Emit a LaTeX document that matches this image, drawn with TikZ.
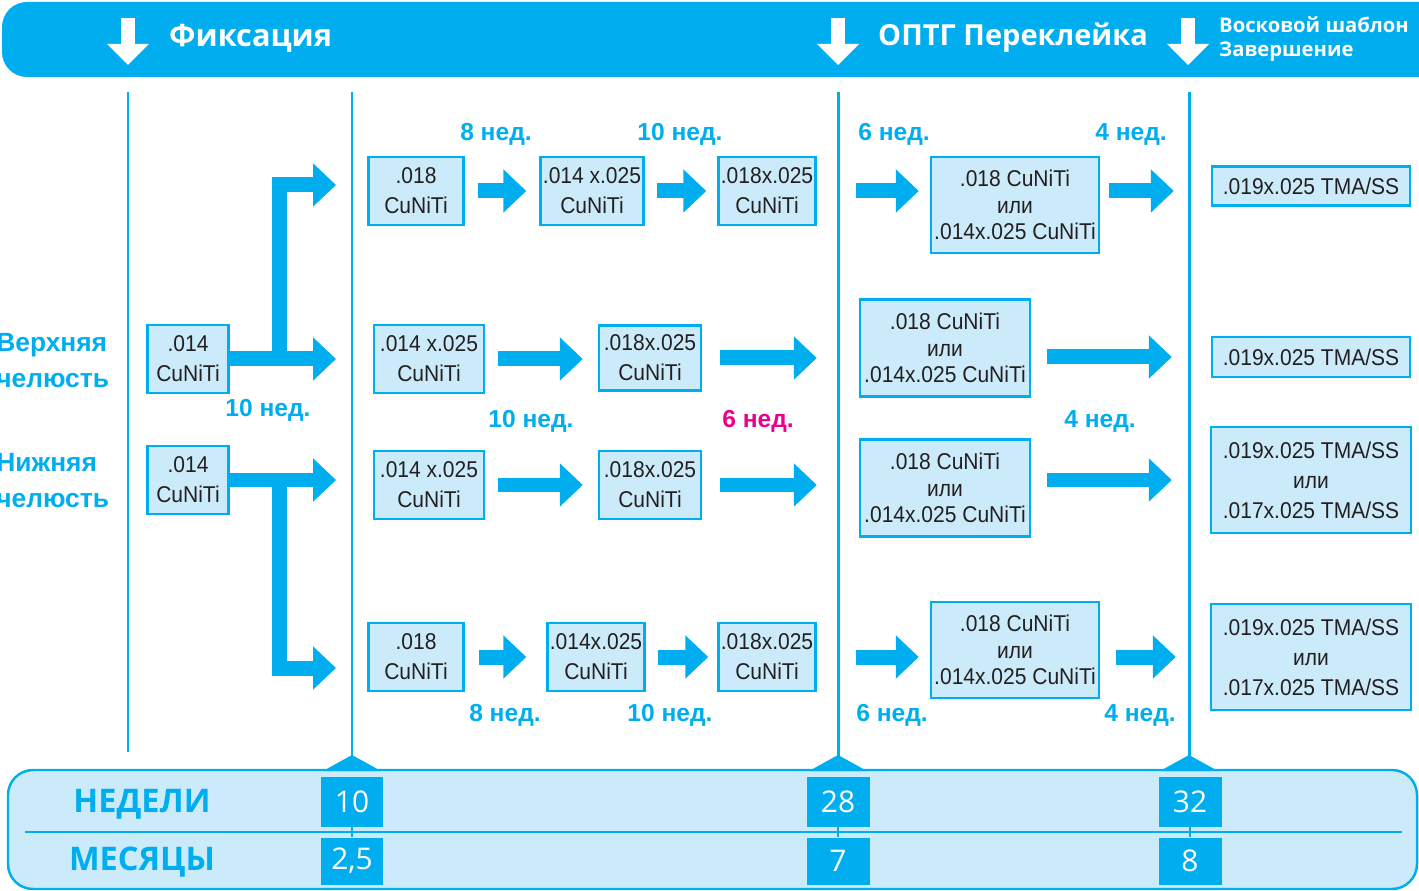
\documentclass[tikz,border=0pt]{standalone}
\usepackage{fontspec}
\setmainfont{Liberation Sans}
\newfontfamily\headfont{Open Sans}
\newfontfamily\wirefont[FakeStretch=0.92]{Liberation Sans}
\usetikzlibrary{arrows.meta, positioning, calc}
\definecolor{brandcyan}{RGB}{0, 174, 239}
\definecolor{boxfill}{RGB}{204, 235, 250}
\definecolor{weekpink}{RGB}{236, 0, 140}
\definecolor{wiretext}{RGB}{35, 31, 32}

\tikzset{
  wire/.style={draw=brandcyan, fill=boxfill, line width=1.4pt, inner sep=0pt, align=center, text=wiretext, font=\wirefont\fontsize{13}{17}\selectfont},
  choice/.style={font=\wirefont\fontsize{13}{15}\selectfont},
  flow/.style={brandcyan, line width=0.3cm, -{Triangle[width=0.84cm,length=0.46cm]}, shorten <=0.26cm, shorten >=0.26cm},
  weeks/.style={font=\bfseries\fontsize{14}{16}\selectfont, text=brandcyan},
  jaw/.style={font=\bfseries\fontsize{15}{20.5}\selectfont, text=brandcyan, align=left, anchor=west, inner sep=0pt},
  headtitle/.style={font=\headfont\bfseries\fontsize{17.5}{22}\selectfont, text=white, anchor=west},
  headsmall/.style={font=\headfont\bfseries\fontsize{11.5}{14}\selectfont, text=white, anchor=west, align=left},
  panellabel/.style={font=\headfont\bfseries\fontsize{18.5}{20}\selectfont, text=brandcyan},
  tally/.style={fill=brandcyan, text=white, inner sep=0pt, minimum width=1.26cm, font=\headfont\fontsize{17}{20}\selectfont}
}

\begin{document}
\begin{tikzpicture}[x=0.02cm, y=-0.02cm]
  \useasboundingbox (0,0) rectangle (1419,891);

  % Header bar
  \fill[brandcyan, rounded corners=0.5cm] (2,2) rectangle (1460,77);
  \foreach \ax in {128,838,1188} {
    \fill[white] (\ax-7,18) rectangle (\ax+7,45);
    \fill[white] (\ax-21,44) -- (\ax+21,44) -- (\ax,65) -- cycle;
  }
  \node[headtitle] (fix) at (163,38) {Фиксация};
  \node[headtitle, font=\headfont\bfseries\fontsize{16.5}{22}\selectfont] (optg) at (872,38) {ОПТГ Переклейка};
  \node[headsmall] (wax) at (1213,39) {Восковой шаблон\\Завершение};

  % Stage lines
  \foreach \lx/\ly in {128/752, 352/756, 838/756, 1189/756}
    \draw[brandcyan, line width=1.7pt] (\lx,92) -- (\lx,\ly);

  % Bottom panel
  \draw[brandcyan, fill=boxfill, line width=1.4pt, rounded corners=0.5cm] (8,770) rectangle (1417,889);
  \foreach \tx in {352,838,1189}
    \fill[brandcyan] (\tx-29,771) -- (\tx,755) -- (\tx+29,771) -- cycle;
  \draw[brandcyan, line width=1.6pt] (25,832) -- (1402,832);
  \node[panellabel] (weeklbl) at (142,804) {НЕДЕЛИ};
  \node[panellabel] (monthlbl) at (142,862) {МЕСЯЦЫ};
  \node[tally, minimum height=1.0cm] (w10) at (352,802) {10};
  \node[tally, minimum height=0.94cm] (m10) at (352,861) {2,5};
  \node[tally, minimum height=1.0cm] (w28) at (838,802) {28};
  \node[tally, minimum height=0.94cm] (m28) at (838,861) {7};
  \node[tally, minimum height=1.0cm] (w32) at (1190,802) {32};
  \node[tally, minimum height=0.94cm] (m32) at (1190,861) {8};
  \draw[brandcyan, line width=1.2pt] (w10) -- (m10);
  \draw[brandcyan, line width=1.2pt] (w28) -- (m28);
  \draw[brandcyan, line width=1.2pt] (w32) -- (m32);

  % Jaw labels and start wires
  \node[jaw] (upperjaw) at (-4,361) {Верхняя\\челюсть};
  \node[jaw] (lowerjaw) at (-4,481) {Нижняя\\челюсть};
  \node[wire, minimum width=1.62cm, minimum height=1.36cm] (up) at (188,359) {.014\\CuNiTi};
  \node[wire, minimum width=1.62cm, minimum height=1.36cm] (low) at (188,480) {.014\\CuNiTi};
  \node[weeks] (wk0) at (268,410) {10 нед.};

  % Split arrows
  \coordinate (forkU) at (279,359);
  \coordinate (tipU1) at (336,185);
  \coordinate (tipU2) at (336,359);
  \coordinate (forkL) at (279,480);
  \coordinate (tipL1) at (336,480);
  \coordinate (tipL2) at (336,668);
  \draw[flow, shorten <=0pt, shorten >=0pt] (up.east) -- (tipU2);
  \draw[flow, shorten <=0pt, shorten >=0pt, line join=miter] (forkU) |- (tipU1);
  \draw[flow, shorten <=0pt, shorten >=0pt] (low.east) -- (tipL1);
  \draw[flow, shorten <=0pt, shorten >=0pt, line join=miter] (forkL) |- (tipL2);

  % Row 1 - upper jaw
  \node[wire, minimum width=1.9cm, minimum height=1.36cm] (r1a) at (416,191) {.018\\CuNiTi};
  \node[wire, minimum width=2.06cm, minimum height=1.36cm] (r1b) at (592,191) {.014 x.025\\CuNiTi};
  \node[wire, minimum width=1.94cm, minimum height=1.36cm] (r1c) at (767,191) {.018x.025\\CuNiTi};
  \node[wire, choice, minimum width=3.36cm, minimum height=1.92cm] (r1d) at (1015,205) {.018 CuNiTi\\или\\.014x.025 CuNiTi};
  \node[wire, minimum width=3.96cm, minimum height=0.78cm] (r1e) at (1311,186) {.019x.025 TMA/SS};
  \draw[flow] (r1a) -- (r1b);
  \draw[flow, shorten <=0.24cm, shorten >=0.22cm] (r1b) -- (r1c);
  \draw[flow, shorten <=0.78cm, shorten >=0.22cm] (r1c.east) -- (r1c.east -| r1d.west);
  \draw[flow, shorten <=0.18cm, shorten >=0.74cm] (r1d.east |- r1c) -- (r1c -| r1e.west);
  \node[weeks] (wk1a) at (496,134) {8 нед.};
  \node[weeks] (wk1b) at (680,134) {10 нед.};
  \node[weeks] (wk1c) at (894,134) {6 нед.};
  \node[weeks] (wk1d) at (1131,134) {4 нед.};

  % Row 2 - upper jaw
  \node[wire, minimum width=2.2cm, minimum height=1.36cm] (r2a) at (429,359) {.014 x.025\\CuNiTi};
  \node[wire, minimum width=2.04cm, minimum height=1.3cm] (r2b) at (650,358) {.018x.025\\CuNiTi};
  \node[wire, choice, minimum width=3.4cm, minimum height=1.94cm] (r2c) at (945,348) {.018 CuNiTi\\или\\.014x.025 CuNiTi};
  \node[wire, minimum width=3.96cm, minimum height=0.8cm] (r2d) at (1311,357) {.019x.025 TMA/SS};
  \draw[flow, shorten >=0.3cm] (r2a.east) -- (r2a.east -| r2b.west);
  \draw[flow, shorten <=0.36cm, shorten >=0.84cm] (r2b.east) -- (r2b.east -| r2c.west);
  \draw[flow, shorten <=0.32cm, shorten >=0.78cm] (r2c.east |- r2d) -- (r2d.west);
  \node[weeks] (wk2a) at (531,421) {10 нед.};
  \node[weeks, text=weekpink] (wk2b) at (758,421) {6 нед.};
  \node[weeks] (wk2c) at (1100,421) {4 нед.};

  % Row 3 - lower jaw
  \node[wire, minimum width=2.2cm, minimum height=1.36cm] (r3a) at (429,485) {.014 x.025\\CuNiTi};
  \node[wire, minimum width=2.04cm, minimum height=1.36cm] (r3b) at (650,485) {.018x.025\\CuNiTi};
  \node[wire, choice, minimum width=3.4cm, minimum height=1.94cm] (r3c) at (945,488) {.018 CuNiTi\\или\\.014x.025 CuNiTi};
  \node[wire, minimum width=4.0cm, minimum height=2.12cm] (r3d) at (1311,480) {.019x.025 TMA/SS\\или\\.017x.025 TMA/SS};
  \draw[flow, shorten >=0.3cm] (r3a) -- (r3b);
  \draw[flow, shorten <=0.36cm, shorten >=0.84cm] (r3b.east) -- (r3b.east -| r3c.west);
  \draw[flow, shorten <=0.32cm, shorten >=0.76cm] (r3c.east |- r3d) -- (r3d.west);

  % Row 4 - lower jaw
  \node[wire, minimum width=1.9cm, minimum height=1.36cm] (r4a) at (416,657) {.018\\CuNiTi};
  \node[wire, minimum width=1.94cm, minimum height=1.36cm] (r4b) at (596,657) {.014x.025\\CuNiTi};
  \node[wire, minimum width=1.94cm, minimum height=1.36cm] (r4c) at (767,657) {.018x.025\\CuNiTi};
  \node[wire, choice, minimum width=3.36cm, minimum height=1.92cm] (r4d) at (1015,650) {.018 CuNiTi\\или\\.014x.025 CuNiTi};
  \node[wire, minimum width=4.0cm, minimum height=2.12cm] (r4e) at (1311,657) {.019x.025 TMA/SS\\или\\.017x.025 TMA/SS};
  \draw[flow, shorten <=0.28cm, shorten >=0.4cm] (r4a) -- (r4b);
  \draw[flow, shorten <=0.24cm, shorten >=0.18cm] (r4b) -- (r4c);
  \draw[flow, shorten <=0.78cm, shorten >=0.22cm] (r4c.east) -- (r4c.east -| r4d.west);
  \draw[flow, shorten <=0.32cm, shorten >=0.68cm] (r4d.east |- r4e) -- (r4e.west);
  \node[weeks] (wk4a) at (505,715) {8 нед.};
  \node[weeks] (wk4b) at (670,715) {10 нед.};
  \node[weeks] (wk4c) at (892,715) {6 нед.};
  \node[weeks] (wk4d) at (1140,715) {4 нед.};
\end{tikzpicture}
\end{document}
